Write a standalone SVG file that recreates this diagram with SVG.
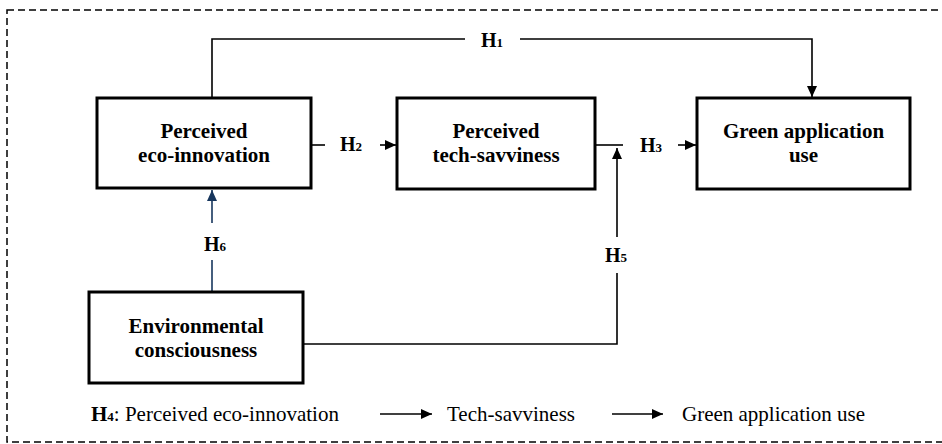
<svg xmlns="http://www.w3.org/2000/svg" width="942" height="444" viewBox="0 0 942 444">
<style>
  .box{fill:#fff;stroke:#000;stroke-width:3}
  text{font-family:'Liberation Serif','Tinos','DejaVu Serif','Times New Roman',serif;fill:#000}
  .nt{font-weight:bold;font-size:21px;text-anchor:middle}
  .lab{font-weight:bold;font-size:20px}
  .sub{font-size:13px}
  .leg{font-size:21px}
  .ln{fill:none;stroke:#000;stroke-width:1.6}
  .nv{fill:none;stroke:#17365d;stroke-width:1.6}
</style>
<defs>
  <marker id="ah" markerUnits="userSpaceOnUse" markerWidth="12" markerHeight="10" refX="11" refY="5" orient="auto">
    <path d="M0,0 L11,5 L0,10 Z" fill="#000"/>
  </marker>
  <marker id="ahn" markerUnits="userSpaceOnUse" markerWidth="12" markerHeight="10" refX="11" refY="5" orient="auto">
    <path d="M0,0 L11,5 L0,10 Z" fill="#17365d"/>
  </marker>
</defs>
<rect x="7" y="10" width="945" height="432" fill="none" stroke="#000" stroke-width="1.5" stroke-dasharray="7 4"/>

<g id="connectors">
  <path class="ln" d="M212,97 V39 H465"/>
  <path class="ln" d="M520,39 H812 V97" marker-end="url(#ah)"/>
  <path class="ln" d="M311,145 H325"/>
  <path class="ln" d="M380,145 H396" marker-end="url(#ah)"/>
  <path class="ln" d="M595,145 H623"/>
  <path class="ln" d="M678,145 H696" marker-end="url(#ah)"/>
  <path class="ln" d="M303,344 H617 V273"/>
  <path class="ln" d="M617,237 V148" marker-end="url(#ah)"/>
  <path class="nv" d="M212,292 V260"/>
  <path class="nv" d="M212,223 V190" marker-end="url(#ahn)"/>
  <path class="ln" d="M380,414 H432" marker-end="url(#ah)"/>
  <path class="ln" d="M612,414 H663" marker-end="url(#ah)"/>
</g>

<g id="labels">
  <text class="lab" x="481" y="47">H<tspan class="sub">1</tspan></text>
  <text class="lab" x="340" y="151">H<tspan class="sub">2</tspan></text>
  <text class="lab" x="640" y="152">H<tspan class="sub">3</tspan></text>
  <text class="lab" x="605" y="262">H<tspan class="sub">5</tspan></text>
  <text class="lab" x="204" y="251">H<tspan class="sub">6</tspan></text>
</g>

<g id="node-eco">
  <rect class="box" x="97" y="98" width="214" height="90"/>
  <text class="nt" x="204" y="138">Perceived</text>
  <text class="nt" x="204" y="162">eco-innovation</text>
</g>
<g id="node-tech">
  <rect class="box" x="397" y="98" width="198" height="91"/>
  <text class="nt" x="496" y="138">Perceived</text>
  <text class="nt" x="496" y="162">tech-savviness</text>
</g>
<g id="node-green">
  <rect class="box" x="697" y="98" width="213" height="91"/>
  <text class="nt" x="803.5" y="138">Green application</text>
  <text class="nt" x="803.5" y="162">use</text>
</g>
<g id="node-env">
  <rect class="box" x="89" y="292" width="214" height="91"/>
  <text class="nt" x="196" y="333">Environmental</text>
  <text class="nt" x="196" y="357">consciousness</text>
</g>

<g id="legend">
  <text class="leg" x="91" y="421"><tspan font-weight="bold">H<tspan class="sub">4</tspan></tspan>: Perceived eco-innovation</text>
  <text class="leg" x="447" y="421">Tech-savviness</text>
  <text class="leg" x="682" y="421">Green application use</text>
</g>
</svg>
